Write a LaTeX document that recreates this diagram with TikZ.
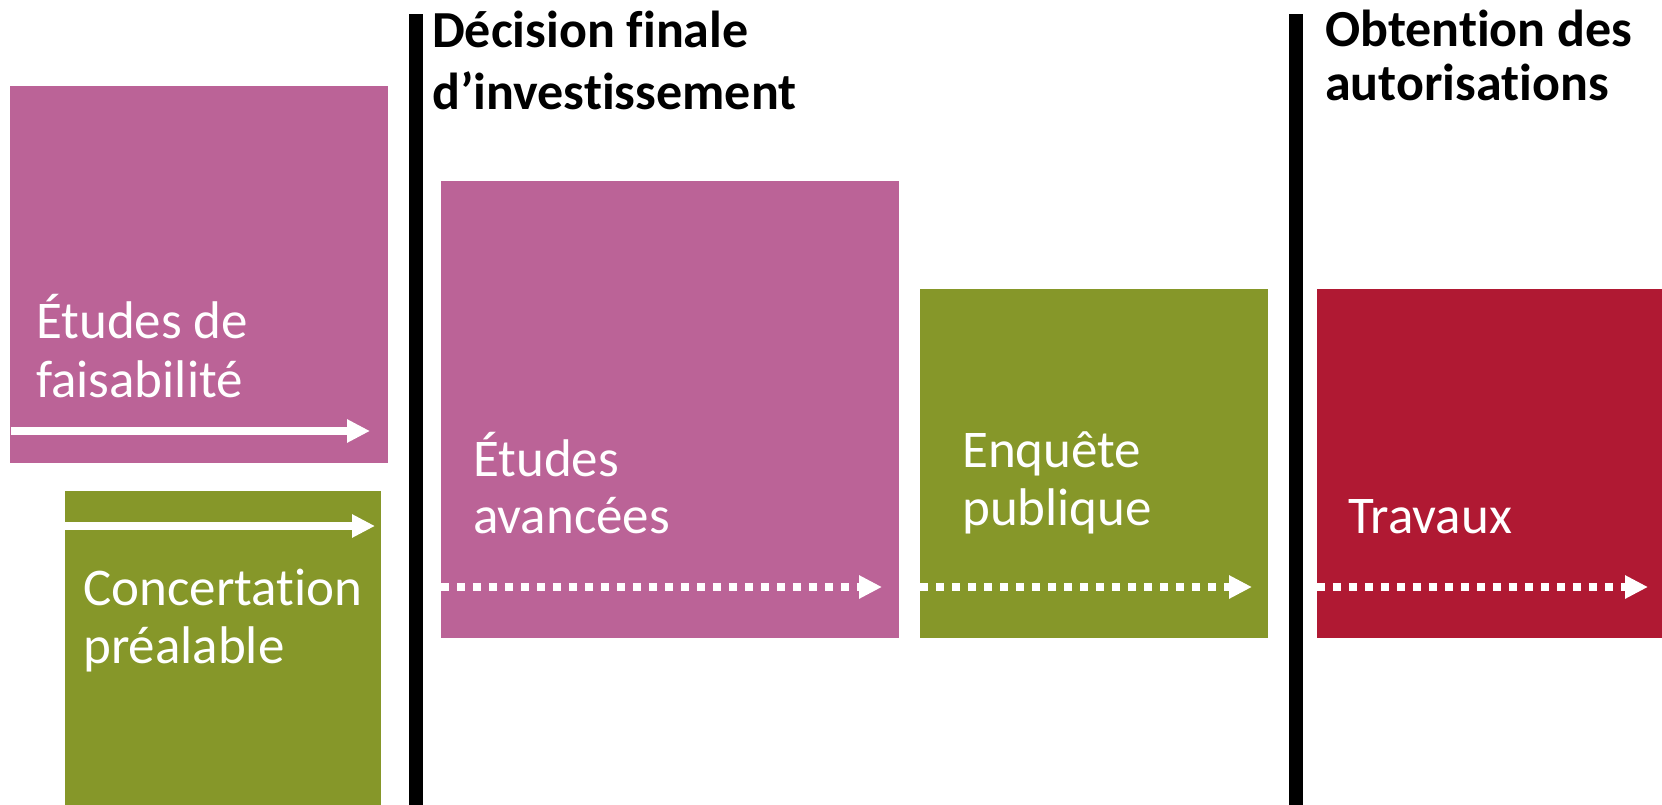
\documentclass[tikz,border=0pt]{standalone}
\usepackage{fontspec}
\setmainfont{Carlito}[Ligatures={NoCommon,NoContextual}]
\usetikzlibrary{arrows.meta}

\definecolor{etudes}{RGB}{187,99,151}
\definecolor{concert}{RGB}{134,151,41}
\definecolor{travaux}{RGB}{176,25,51}

\tikzset{
  lbl/.style={anchor=base west,inner sep=0pt,text=white,font=\fontsize{53}{64}\selectfont},
  jalon/.style={anchor=base west,inner sep=0pt,font=\fontsize{52}{62}\selectfont\bfseries},
  fleche/.style={white,line width=8pt,-{Triangle[length=23pt,width=22pt]}},
  flechept/.style={fleche,dash pattern=on 8pt off 8pt},
}

\begin{document}
\begin{tikzpicture}[x=1pt,y=-1pt]
\useasboundingbox (0,0) rectangle (1662,805);
% phases
\fill[etudes] (10,86) rectangle (388,463);
\fill[concert] (65,491) rectangle (381,805);
\fill[etudes] (441,181) rectangle (899,638);
\fill[concert] (920,289) rectangle (1268,638);
\fill[travaux] (1317,289) rectangle (1662,638);
% jalons
\fill (409,14) rectangle (423,805);
\fill (1289,14) rectangle (1303,805);
\node[jalon] (dfi1) at (432,48) {Décision finale};
\node[jalon] (dfi2) at (432,110) {d’investissement};
\node[jalon] (aut1) at (1325,47) {Obtention des};
\node[jalon] (aut2) at (1325,101) {autorisations};
% textes
\node[lbl] (feas1) at (36,338) {Études de};
\node[lbl] (feas2) at (36,397) {faisabilité};
\node[lbl] (conc1) at (83,605) {Concertation};
\node[lbl] (conc2) at (83,663) {préalable};
\node[lbl] (av1) at (473,476) {Études};
\node[lbl] (av2) at (473,533) {avancées};
\node[lbl] (enq1) at (962,467) {Enquête};
\node[lbl] (enq2) at (962,525) {publique};
\node[lbl] (trav) at (1348,533) {Travaux};
% fleches
\coordinate (feasA) at (11,431);
\coordinate (feasB) at (370,431);
\coordinate (concA) at (65,526);
\coordinate (concB) at (375,526);
\coordinate (avA) at (441,587);
\coordinate (avB) at (882,587);
\coordinate (enqA) at (920,587);
\coordinate (enqB) at (1252,587);
\coordinate (travA) at (1317,587);
\coordinate (travB) at (1648,587);
\draw[fleche] (feasA) -- (feasB);
\draw[fleche] (concA) -- (concB);
\draw[flechept] (avA) -- (avB);
\draw[flechept] (enqA) -- (enqB);
\draw[flechept] (travA) -- (travB);
\end{tikzpicture}
\end{document}
